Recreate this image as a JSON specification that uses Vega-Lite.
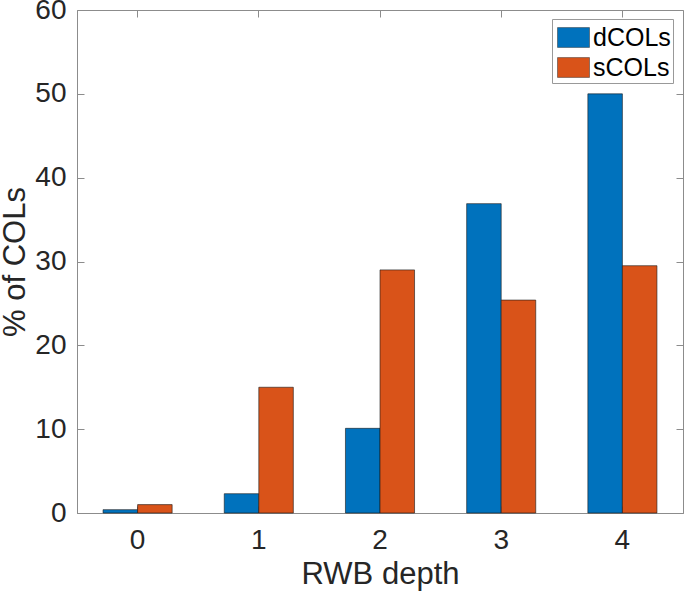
{
  "$schema": "https://vega.github.io/schema/vega-lite/v6.json",
  "autosize": "none",
  "width": 606,
  "height": 503,
  "padding": {"left": 77, "top": 10, "right": 2, "bottom": 85},
  "background": "white",
  "config": {
    "font": "Liberation Sans",
    "view": {"stroke": "#8c8c8c", "strokeWidth": 1},
    "axis": {
      "domainColor": "#8c8c8c",
      "tickColor": "#8c8c8c",
      "labelColor": "#262626",
      "titleColor": "#262626",
      "labelFont": "Liberation Sans",
      "titleFont": "Liberation Sans",
      "titleFontWeight": "normal",
      "grid": false
    }
  },
  "data": {
    "values": [
      {"depth": "0", "series": "dCOLs", "pct": 0.4},
      {"depth": "0", "series": "sCOLs", "pct": 1.0},
      {"depth": "1", "series": "dCOLs", "pct": 2.3},
      {"depth": "1", "series": "sCOLs", "pct": 15.0},
      {"depth": "2", "series": "dCOLs", "pct": 10.1},
      {"depth": "2", "series": "sCOLs", "pct": 29.0},
      {"depth": "3", "series": "dCOLs", "pct": 36.9},
      {"depth": "3", "series": "sCOLs", "pct": 25.4},
      {"depth": "4", "series": "dCOLs", "pct": 50.0},
      {"depth": "4", "series": "sCOLs", "pct": 29.5}
    ]
  },
  "layer": [
    {
      "mark": {"type": "bar", "stroke": "#1a1a1a", "strokeWidth": 0.6},
      "encoding": {
        "x": {
          "field": "depth", "type": "ordinal",
          "scale": {"paddingInner": 0.43, "paddingOuter": 0.215},
          "axis": {"title": "RWB depth", "labelAngle": 0, "labelFontSize": 28, "titleFontSize": 31,
                   "tickSize": -7, "labelPadding": 20, "titlePadding": 5, "domain": true}
        },
        "xOffset": {"field": "series", "type": "nominal", "scale": {"paddingInner": 0, "paddingOuter": 0}},
        "y": {
          "field": "pct", "type": "quantitative",
          "scale": {"domain": [0, 60], "nice": false},
          "axis": {"title": "% of COLs", "values": [0, 10, 20, 30, 40, 50, 60], "labelFontSize": 28,
                   "titleFontSize": 31, "tickSize": -7, "labelPadding": 18, "titlePadding": 3}
        },
        "color": {
          "field": "series", "type": "nominal",
          "scale": {"domain": ["dCOLs", "sCOLs"], "range": ["#0072BD", "#D95319"]},
          "legend": {
            "title": null, "orient": "none", "legendX": 475, "legendY": 9,
            "fillColor": "white", "strokeColor": "#999999", "padding": 2,
            "labelFontSize": 25, "labelColor": "#000000", "labelOffset": 3, "symbolOffset": 3,
            "symbolType": "M-1,-0.62H1V0.62H-1Z", "symbolSize": 1024,
            "symbolStrokeColor": "#333333", "symbolStrokeWidth": 0.5, "symbolOpacity": 1,
            "rowPadding": 0
          }
        }
      }
    },
    {
      "mark": {"type": "bar", "opacity": 0},
      "encoding": {
        "x": {"field": "depth", "type": "ordinal",
              "axis": {"orient": "top", "labels": false, "title": null, "tickSize": -7, "domain": false}},
        "y": {"field": "pct", "type": "quantitative",
              "axis": {"orient": "right", "labels": false, "title": null, "tickSize": -7, "domain": false,
                       "values": [0, 10, 20, 30, 40, 50, 60]}}
      }
    }
  ],
  "resolve": {"axis": {"x": "independent", "y": "independent"}}
}
